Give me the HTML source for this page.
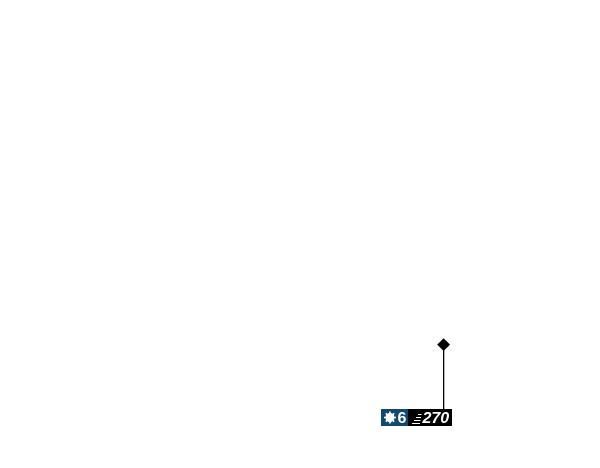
<!DOCTYPE html>
<html>
<head>
<meta charset="utf-8">
<style>
html,body{margin:0;padding:0;background:#fff;width:600px;height:468px;overflow:hidden}
svg{display:block}
text{font-family:"Liberation Sans",sans-serif;font-weight:bold;fill:#fff}
</style>
</head>
<body>
<svg width="600" height="468" viewBox="0 0 600 468" xmlns="http://www.w3.org/2000/svg">
<rect x="443" y="345" width="1.3" height="65" fill="#000"/>
<polygon points="443.6,338.2 450,344.6 443.6,351 437.2,344.6" fill="#000"/>
<rect x="381" y="409" width="27" height="17" fill="#0f4a6e"/>
<rect x="408" y="409" width="44" height="17" fill="#000"/>
<g fill="#fff">
<circle cx="390" cy="417.5" r="4.6"/>
<g stroke="#fff" stroke-width="1.6">
<line x1="390" y1="411.5" x2="390" y2="423.5"/>
<line x1="384" y1="417.5" x2="396" y2="417.5"/>
<line x1="385.8" y1="413.3" x2="394.2" y2="421.7"/>
<line x1="394.2" y1="413.3" x2="385.8" y2="421.7"/>
</g>
</g>
<text x="397.5" y="423" font-size="16">6</text>
<g stroke="#fff" stroke-width="1">
<line x1="418" y1="414.5" x2="421.5" y2="414.5"/>
<line x1="416" y1="417.5" x2="421" y2="417.5"/>
<line x1="414" y1="420.5" x2="420.5" y2="420.5"/>
<line x1="412" y1="423.5" x2="420" y2="423.5"/>
</g>
<text x="422.5" y="423" font-size="16" font-style="italic">270</text>
</svg>
</body>
</html>
